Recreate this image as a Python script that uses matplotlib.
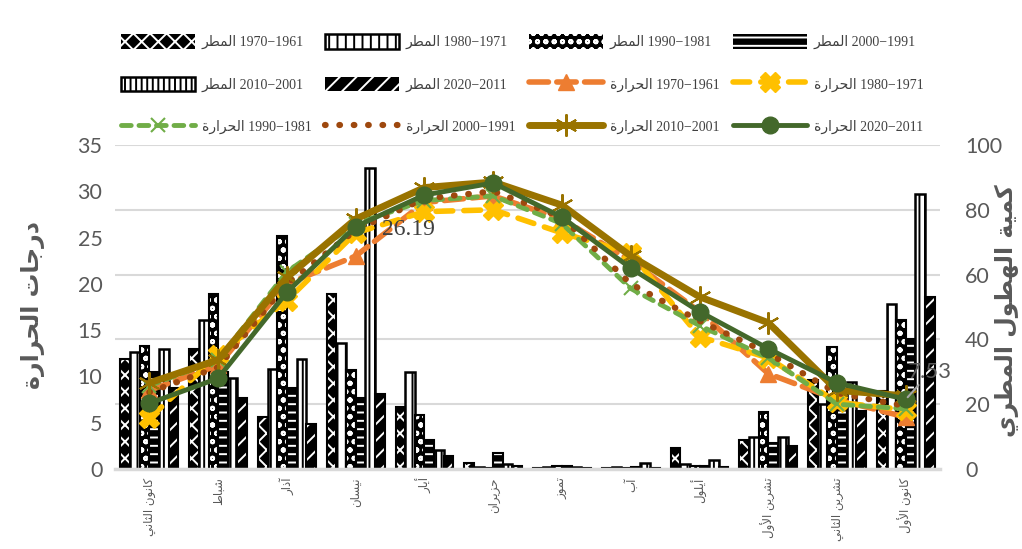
import matplotlib.pyplot as plt
from matplotlib.patches import Patch
from matplotlib.lines import Line2D
import numpy as np

plt.rcParams['hatch.color'] = 'white'
plt.rcParams['hatch.linewidth'] = 1.4

# months (Levantine names)
months = ['كانون الثاني', 'شباط', 'آذار', 'نيسان', 'أيار', 'حزيران',
          'تموز', 'آب', 'أيلول', 'تشرين الأول', 'تشرين الثاني', 'كانون الأول']
periods = ['1970−1961', '1980−1971', '1990−1981', '2000−1991', '2010−2001', '2020−2011']

# rainfall (mm), right axis
rain_1961_1970 = [34, 37, 16, 54, 19, 1.8, 0.4, 0.3, 6.4, 9, 27.5, 24]
rain_1971_1980 = [36, 46, 31, 39, 30, 0.6, 0.5, 0.6, 1.5, 10, 20, 51]
rain_1981_1990 = [38, 54, 72, 30.5, 16.7, 0.4, 0.8, 0.3, 1.0, 17.6, 37.7, 46]
rain_1991_2000 = [30, 30, 25, 22, 9, 5.0, 0.9, 0.5, 0.8, 8, 22, 40]
rain_2001_2010 = [37, 28, 34, 93, 6, 1.5, 0.6, 2.0, 2.7, 10, 27, 85]
rain_2011_2020 = [25, 22, 14, 23, 4, 1.0, 0.3, 0.4, 0.5, 7, 18, 53]

# mean temperature (°C), left axis
temp_1961_1970 = [8.5, 11.2, 20.0, 23.0, 28.8, 29.5, 27.0, 22.5, 17.0, 10.3, 7.5, 5.6]
temp_1971_1980 = [5.5, 12.3, 18.2, 25.5, 27.8, 28.0, 25.5, 23.3, 14.3, 12.0, 7.2, 6.4]
temp_1981_1990 = [9.0, 11.8, 21.3, 26.5, 29.0, 29.5, 26.5, 19.5, 15.5, 12.0, 7.0, 6.5]
temp_1991_2000 = [8.3, 11.0, 20.0, 25.8, 29.2, 30.0, 27.2, 20.0, 16.0, 12.5, 8.2, 6.8]
temp_2001_2010 = [9.3, 11.8, 20.7, 27.0, 30.4, 31.0, 28.5, 23.0, 18.6, 15.8, 8.5, 7.9]
temp_2011_2020 = [7.1, 9.8, 19.1, 26.19, 29.6, 30.9, 27.2, 21.7, 17.0, 13.0, 9.3, 7.53]

# contextual forms: isolated, final, initial, medial
AR_FORMS = {
    'ا': (0xFE8D, 0xFE8E, None, None),
    'أ': (0xFE83, 0xFE84, None, None),
    'آ': (0xFE81, 0xFE82, None, None),
    'ب': (0xFE8F, 0xFE90, 0xFE91, 0xFE92),
    'ة': (0xFE93, 0xFE94, None, None),
    'ت': (0xFE95, 0xFE96, 0xFE97, 0xFE98),
    'ث': (0xFE99, 0xFE9A, 0xFE9B, 0xFE9C),
    'ج': (0xFE9D, 0xFE9E, 0xFE9F, 0xFEA0),
    'ح': (0xFEA1, 0xFEA2, 0xFEA3, 0xFEA4),
    'د': (0xFEA9, 0xFEAA, None, None),
    'ذ': (0xFEAB, 0xFEAC, None, None),
    'ر': (0xFEAD, 0xFEAE, None, None),
    'ز': (0xFEAF, 0xFEB0, None, None),
    'س': (0xFEB1, 0xFEB2, 0xFEB3, 0xFEB4),
    'ش': (0xFEB5, 0xFEB6, 0xFEB7, 0xFEB8),
    'ط': (0xFEC1, 0xFEC2, 0xFEC3, 0xFEC4),
    'ك': (0xFED9, 0xFEDA, 0xFEDB, 0xFEDC),
    'ل': (0xFEDD, 0xFEDE, 0xFEDF, 0xFEE0),
    'م': (0xFEE1, 0xFEE2, 0xFEE3, 0xFEE4),
    'ن': (0xFEE5, 0xFEE6, 0xFEE7, 0xFEE8),
    'ه': (0xFEE9, 0xFEEA, 0xFEEB, 0xFEEC),
    'و': (0xFEED, 0xFEEE, None, None),
    'ي': (0xFEF1, 0xFEF2, 0xFEF3, 0xFEF4),
}
LAM_ALEF = {'ا': (0xFEFB, 0xFEFC), 'أ': (0xFEF7, 0xFEF8), 'آ': (0xFEF5, 0xFEF6)}


def ar(text):
    """Shape Arabic text and return it in visual (left-to-right) order."""
    out = []
    i = 0
    while i < len(text):
        ch = text[i]
        if ch not in AR_FORMS:
            out.append(ch)
            i += 1
            continue
        prev = text[i - 1] if i > 0 else ''
        nxt = text[i + 1] if i + 1 < len(text) else ''
        joins_prev = prev in AR_FORMS and AR_FORMS[prev][2] is not None
        if ch == 'ل' and nxt in LAM_ALEF:
            out.append(chr(LAM_ALEF[nxt][1 if joins_prev else 0]))
            i += 2
            continue
        joins_next = AR_FORMS[ch][2] is not None and nxt in AR_FORMS
        if joins_prev and joins_next:
            form = 3
        elif joins_prev:
            form = 1
        elif joins_next:
            form = 2
        else:
            form = 0
        out.append(chr(AR_FORMS[ch][form]))
        i += 1
    return ''.join(reversed(out))


GREY = '#595959'
AR_FONT = ['DejaVu Sans']
NUM_FONT = ['Lato', 'DejaVu Sans']
SERIF = ['Liberation Serif', 'DejaVu Sans']

fig = plt.figure(figsize=(10.22, 5.49), dpi=100)
ax = fig.add_axes([0.1125, 0.1457, 0.8075, 0.5902])
ax2 = ax.twinx()
ax.set_zorder(2)
ax.patch.set_visible(False)
ax2.set_zorder(1)

x = np.arange(len(months))
w = 0.14
rain = [rain_1961_1970, rain_1971_1980, rain_1981_1990,
        rain_1991_2000, rain_2001_2010, rain_2011_2020]
# (face, hatch) per decade; white-faced ones get a black hatch
bar_styles = [('black', 'xx'), ('white', '||'), ('black', 'oo'),
              ('black', '--'), ('white', '|||'), ('black', '//')]

legend_rain = []
for k, (vals, (face, hatch)) in enumerate(zip(rain, bar_styles)):
    pos = x + (k - 2.5) * w
    if face == 'black':
        ax2.bar(pos, vals, width=w, color='black', hatch=hatch, linewidth=0)
        ax2.bar(pos, vals, width=w, facecolor='none', edgecolor='black', linewidth=1.5)
        legend_rain.append(Patch(facecolor='black', hatch=hatch))
    else:
        ax2.bar(pos, vals, width=w, facecolor='white', edgecolor='black',
                hatch=hatch, linewidth=1.8)
        legend_rain.append(Patch(facecolor='white', edgecolor='black', hatch=hatch, linewidth=1.8))

temps = [temp_1961_1970, temp_1971_1980, temp_1981_1990,
         temp_1991_2000, temp_2001_2010, temp_2011_2020]
line_styles = [
    dict(color='#ED7D31', lw=4, ls=(0, (3.5, 1.5)), marker='^', ms=12),
    dict(color='#FFC000', lw=4, ls=(0, (3, 2)), marker='X', ms=15, mec='#FFC000'),
    dict(color='#70AD47', lw=3.5, ls=(0, (2, 1.6)), marker='x', ms=10, mew=1.5),
    dict(color='#9E480E', lw=4.5, ls=(0, (0.1, 2.2)), marker=None),
    dict(color='#997300', lw=5, ls='-', marker=(6, 2, 0), ms=16, mew=1.5),
    dict(color='#43682B', lw=3.5, ls='-', marker='o', ms=12),
]

legend_temp = []
for vals, st in zip(temps, line_styles):
    ax.plot(x, vals, dash_capstyle='round', solid_capstyle='round', **st)
    legend_temp.append(Line2D([], [], dash_capstyle='round', solid_capstyle='round', **st))

# data labels on the 2011-2020 series
ax.annotate('26.19', xy=(3, temp_2011_2020[3]), xytext=(26, -3), textcoords='offset pixels',
            ha='left', va='center', fontsize=17, color='#404040', family=SERIF)
ax.annotate('7.53', xy=(11, temp_2011_2020[11]), xytext=(24, 27), textcoords='offset pixels',
            ha='center', va='center', fontsize=16, color=GREY, family=NUM_FONT,
            arrowprops=dict(arrowstyle='-', color='#a6a6a6', lw=1.5, shrinkA=0, shrinkB=2))

# axes
ax.set_xlim(-0.5, 11.5)
ax.set_ylim(0, 35)
ax.set_yticks(range(0, 36, 5))
ax2.set_ylim(0, 100)
ax2.set_yticks(range(0, 101, 20))
ax2.set_axisbelow(True)
ax2.grid(axis='y', color='#d9d9d9', lw=1.5)

ax.set_xticks(x)
ax.set_xticklabels([ar(m) for m in months], rotation=90, fontsize=8.5, color=GREY,
                   family=AR_FONT, va='top', ha='center')
ax.tick_params(axis='x', length=0, pad=6)
ax.tick_params(axis='y', length=0, pad=9, labelsize=15.5, labelcolor=GREY)
ax2.tick_params(axis='y', length=0, pad=18, labelsize=15.5, labelcolor=GREY)
for lab in ax.get_yticklabels() + ax2.get_yticklabels():
    lab.set_family(NUM_FONT)

for a in (ax, ax2):
    for s in a.spines.values():
        s.set_visible(False)
ax.spines['bottom'].set_visible(True)
ax.spines['bottom'].set_color('#d9d9d9')
ax.spines['bottom'].set_linewidth(2.5)

fig.text(0.032, 0.445, ar('درجات الحرارة'), rotation=90, fontsize=17, fontweight='bold',
         color=GREY, ha='center', va='center', family=AR_FONT)
fig.text(0.985, 0.435, ar('كمية الهطول المطري'), rotation=90, fontsize=17, fontweight='bold',
         color=GREY, ha='center', va='center', family=AR_FONT)

# legend, filled row by row (3 rows x 4 columns)
handles = legend_rain + legend_temp
labels = [ar('المطر') + ' ' + p for p in periods] + [ar('الحرارة') + ' ' + p for p in periods]
order = [r * 4 + c for c in range(4) for r in range(3)]
fig.legend([handles[i] for i in order], [labels[i] for i in order], ncol=4,
           loc='upper center', bbox_to_anchor=(0.511, 0.96), frameon=False,
           prop={'family': SERIF, 'size': 10}, labelcolor='#404040',
           handlelength=5.3, handleheight=1.2, labelspacing=1.95,
           columnspacing=1.0, handletextpad=0.5)

fig.savefig('out.png', dpi=100)
